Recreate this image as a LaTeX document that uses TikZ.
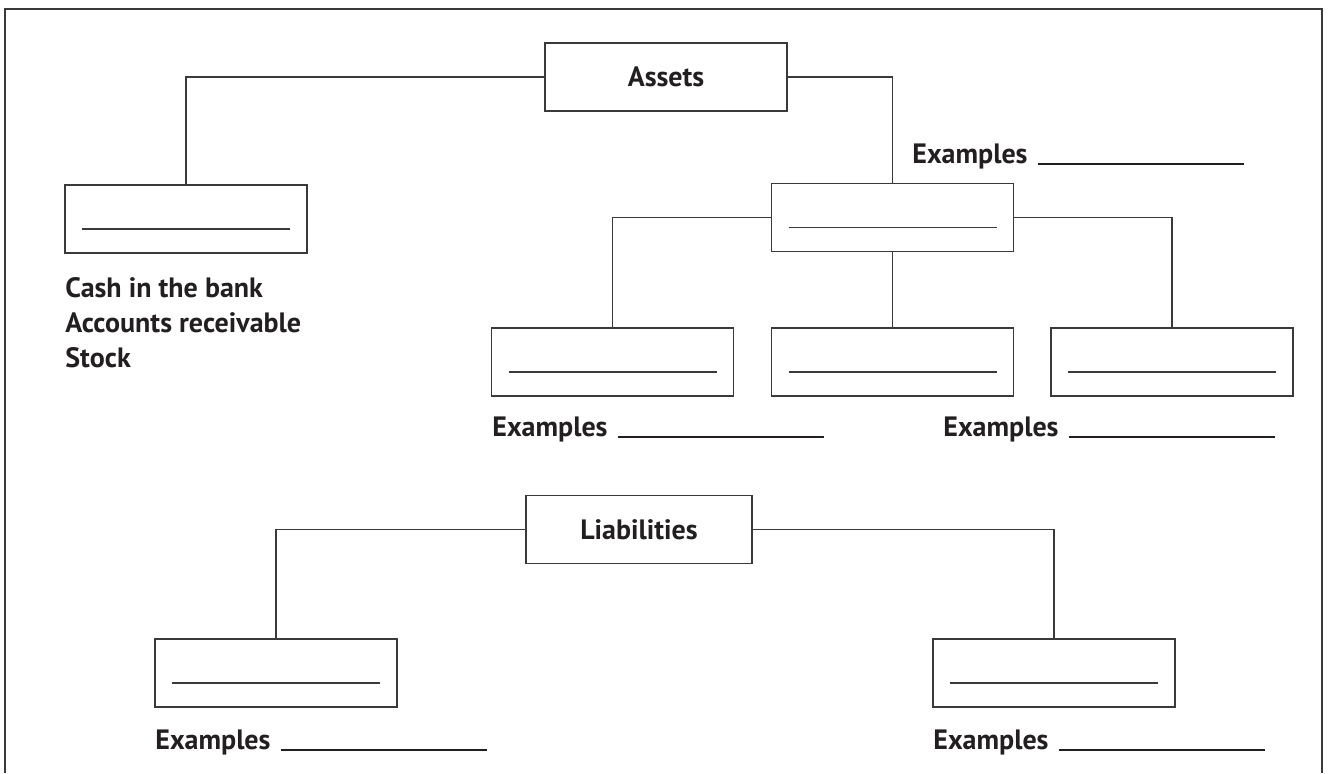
\documentclass[tikz,border=0pt]{standalone}
\usepackage{fontspec}
\setmainfont{PT Sans}
\usepackage{tikz}
\definecolor{ink}{HTML}{231F20}
\definecolor{rim}{HTML}{3A3A3A}

\begin{document}
\begin{tikzpicture}[x=0.5pt,y=-0.5pt,
    font=\fontsize{14}{17.5}\selectfont\bfseries,text=ink,
    wire/.style={draw=rim,line width=0.7pt},
    headbox/.style={draw=rim,line width=0.7pt,minimum height=34pt,inner sep=0pt},
    blankbox/.style={draw=rim,line width=0.7pt,minimum width=121pt,minimum height=34pt,inner sep=0pt,
      path picture={\draw[wire] ([xshift=8.5pt,yshift=12pt]path picture bounding box.south west)
        -- ([xshift=-8.5pt,yshift=12pt]path picture bounding box.south east);}},
    exlabel/.style={anchor=base west,inner sep=0pt}]
  \useasboundingbox (0,0) rectangle (1328,773);
  \draw[wire] (5,773) -- (5,9) -- (1322,9) -- (1322,773);
  % assets
  \node[headbox,minimum width=121pt] (assets) at (666,77) {Assets};
  \node[blankbox] (cash) at (186,219) {};
  \node[blankbox] (kind) at (892.5,217.5) {};
  \node[blankbox] (kinda) at (612.5,362) {};
  \node[blankbox] (kindb) at (892.5,362) {};
  \node[blankbox] (kindc) at (1172,362) {};
  \draw[wire] (assets.west) -| (cash.north);
  \draw[wire] (assets.east) -| (kind.north);
  \draw[wire] (kind.west) -| (kinda.north);
  \draw[wire] (kind.south) -- (kindb.north);
  \draw[wire] (kind.east) -| (kindc.north);
  \node[exlabel,align=left] (cashlist) at (65,367) {Cash in the bank\\Accounts receivable\\Stock};
  \node[exlabel] (exkind) at (912,163) {Examples\hspace{5pt}\rule[-0.8pt]{103pt}{0.6pt}};
  \node[exlabel] (exkinda) at (492,436) {Examples\hspace{5pt}\rule[-0.8pt]{103pt}{0.6pt}};
  \node[exlabel] (exkindc) at (943,436) {Examples\hspace{5pt}\rule[-0.8pt]{103pt}{0.6pt}};
  % liabilities
  \node[headbox,minimum width=113pt] (liab) at (639,529.5) {Liabilities};
  \node[blankbox] (debta) at (276,673) {};
  \node[blankbox] (debtb) at (1054,673) {};
  \draw[wire] (liab.west) -| (debta.north);
  \draw[wire] (liab.east) -| (debtb.north);
  \node[exlabel] (exdebta) at (155,749) {Examples\hspace{5pt}\rule[-0.8pt]{103pt}{0.6pt}};
  \node[exlabel] (exdebtb) at (933,749) {Examples\hspace{5pt}\rule[-0.8pt]{103pt}{0.6pt}};
\end{tikzpicture}
\end{document}
